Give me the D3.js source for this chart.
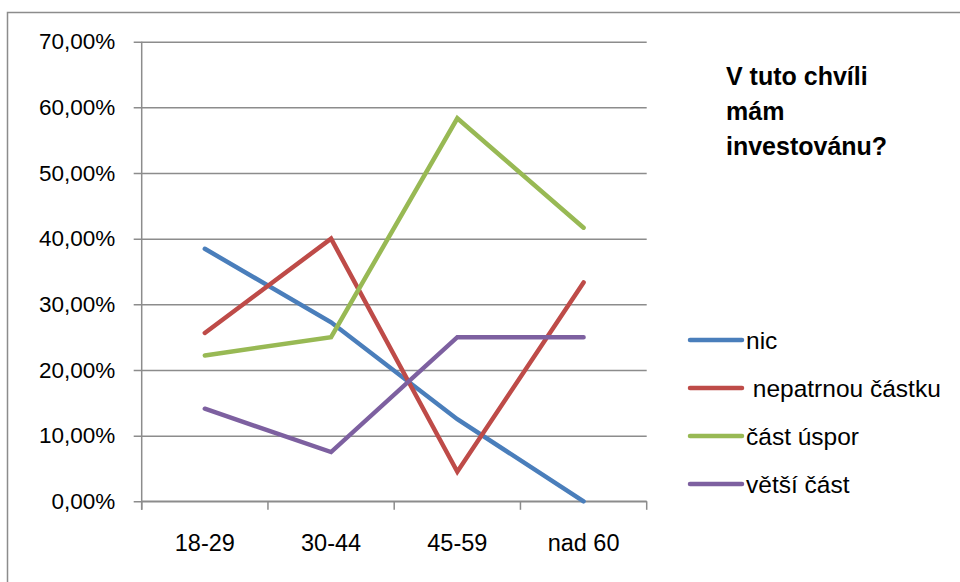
<!DOCTYPE html>
<html>
<head>
<meta charset="utf-8">
<script src="https://cdn.jsdelivr.net/npm/d3@7/dist/d3.min.js"></script>
<style>
  html, body { margin: 0; padding: 0; background: #fff; }
  svg { display: block; }
  text { font-family: "Liberation Sans", Arial, sans-serif; fill: #000; }
</style>
</head>
<body>
<svg id="chart" width="960" height="582"></svg>
<script>
// Age groups on the x axis
const categories = ["18-29", "30-44", "45-59", "nad 60"];
// Share of respondents per answer, by age group
const nic        = [0.3846, 0.2727, 0.125, 0.0];
const nepatrnou  = [0.2564, 0.40, 0.045, 0.3333];
const castUspor  = [0.2222, 0.25, 0.5833, 0.4167];
const vetsiCast  = [0.141, 0.075, 0.25, 0.25];
const seriesNames = ["nic", " nepatrnou částku", "část úspor", "větší část"];
const seriesColors = ["#4a7ebb", "#be4b48", "#98b954", "#7d60a0"];
const yTicks = [0, 0.1, 0.2, 0.3, 0.4, 0.5, 0.6, 0.7];
const titleLines = ["V tuto chvíli", "mám", "investovánu?"];

const seriesValues = [nic, nepatrnou, castUspor, vetsiCast];

const svg = d3.select("#chart");
const gridColor = "#8c8c8c";

// Outer chart frame
svg.append("rect")
  .attr("x", 7.5).attr("y", 12.5)
  .attr("width", 1000).attr("height", 1000)
  .attr("fill", "none").attr("stroke", gridColor).attr("stroke-width", 1.5);

const plot = { left: 141.7, right: 646.7, top: 41.7, bottom: 501.3 };

const x = d3.scaleBand().domain(categories).range([plot.left, plot.right]).padding(0);
const y = d3.scaleLinear().domain([0, 0.7]).range([plot.bottom, plot.top]);

// Horizontal gridlines with short outer ticks and percentage labels
const yAxis = d3.axisLeft(y)
  .tickValues(yTicks)
  .tickSize(-(plot.right - plot.left))
  .tickPadding(18)
  .tickFormat(d => d3.format(".2f")(d * 100).replace(".", ",") + "%");

const gy = svg.append("g").attr("transform", `translate(${plot.left},0)`).call(yAxis);
gy.select(".domain").remove();
gy.selectAll(".tick line")
  .attr("x1", -8)
  .attr("stroke", gridColor).attr("stroke-width", 1.5);
gy.selectAll(".tick text")
  .attr("x", -26.5)
  .style("font-size", "22.5px")
  .style("font-family", "'Liberation Sans', Arial, sans-serif")
  .attr("fill", "#000");

// Vertical axis line
svg.append("line")
  .attr("x1", plot.left).attr("x2", plot.left)
  .attr("y1", plot.top).attr("y2", plot.bottom + 8.5)
  .attr("stroke", gridColor).attr("stroke-width", 1.5);

// Category axis: ticks at band edges, labels centered in bands
const gx = svg.append("g").attr("transform", `translate(0,${plot.bottom})`);
gx.append("line")
  .attr("x1", plot.left).attr("x2", plot.right)
  .attr("stroke", gridColor).attr("stroke-width", 1.5);
const edges = categories.map(c => x(c)).concat([x(categories[categories.length - 1]) + x.bandwidth()]);
gx.selectAll("line.edge").data(edges).join("line")
  .attr("class", "edge")
  .attr("x1", d => d).attr("x2", d => d)
  .attr("y1", 0).attr("y2", 8.5)
  .attr("stroke", gridColor).attr("stroke-width", 1.5);
gx.selectAll("text").data(categories).join("text")
  .attr("x", d => x(d) + x.bandwidth() / 2)
  .attr("y", 50)
  .attr("text-anchor", "middle")
  .style("font-size", "23.5px")
  .text(d => d);

// Series lines
const line = d3.line()
  .x((d, i) => x(categories[i]) + x.bandwidth() / 2)
  .y(d => y(d));

svg.append("g").selectAll("path").data(seriesValues).join("path")
  .attr("d", d => line(d))
  .attr("fill", "none")
  .attr("stroke", (d, i) => seriesColors[i])
  .attr("stroke-width", 4.5)
  .attr("stroke-linecap", "round")
  .attr("stroke-linejoin", "miter");

// Title
const title = svg.append("text")
  .attr("x", 726).attr("y", 85)
  .style("font-size", "25px")
  .style("font-weight", "bold");
title.selectAll("tspan").data(titleLines).join("tspan")
  .attr("x", 726)
  .attr("dy", (d, i) => i === 0 ? 0 : 35)
  .text(d => d);

// Legend
const legendY = [340, 388, 436, 484];
const legend = svg.append("g").selectAll("g").data(seriesNames).join("g")
  .attr("transform", (d, i) => `translate(0,${legendY[i]})`);
legend.append("line")
  .attr("x1", 690).attr("x2", 742)
  .attr("stroke", (d, i) => seriesColors[i])
  .attr("stroke-width", 4.5)
  .attr("stroke-linecap", "round");
legend.append("text")
  .attr("x", 746).attr("y", 0)
  .attr("dy", "0.36em")
  .style("font-size", "24.5px")
  .style("white-space", "pre")
  .attr("xml:space", "preserve")
  .text(d => d);
</script>
</body>
</html>
